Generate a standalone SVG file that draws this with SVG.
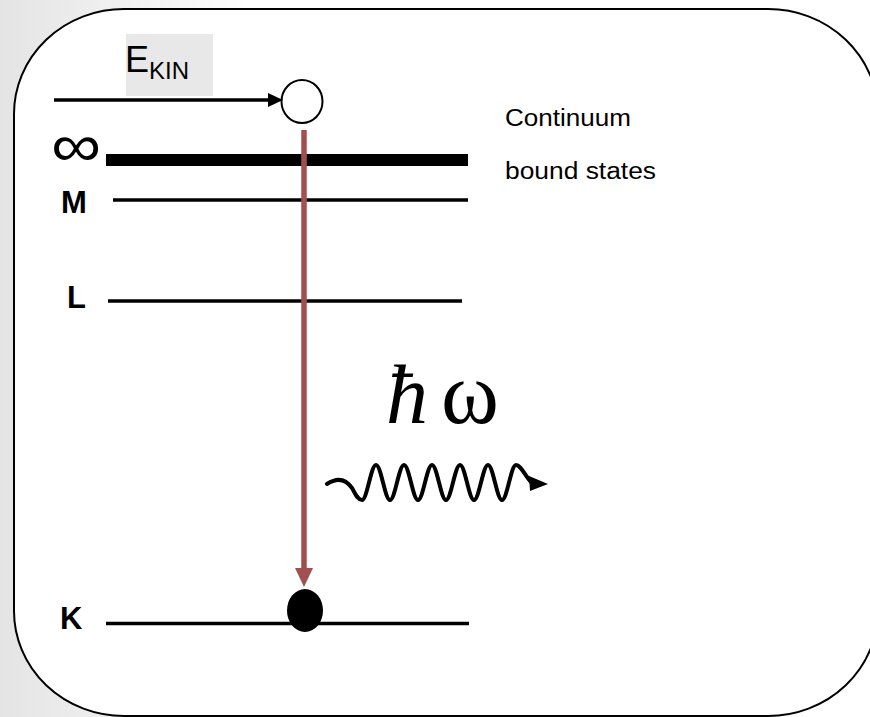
<svg xmlns="http://www.w3.org/2000/svg" width="870" height="717" viewBox="0 0 870 717">
<defs>
<linearGradient id="bg" x1="0" y1="0" x2="870" y2="0" gradientUnits="userSpaceOnUse">
<stop offset="0" stop-color="#e4e4e4"/>
<stop offset="0.3" stop-color="#ffffff"/>
<stop offset="1" stop-color="#ffffff"/>
</linearGradient>
<style>
.lvl{stroke:#000;stroke-width:3.5;fill:none}
.lab{font-family:"Liberation Sans",Arial,sans-serif;font-weight:bold;font-size:31px;fill:#000}
.txt{font-family:"Liberation Sans",Arial,sans-serif;font-size:23px;fill:#000}
.ser{font-family:"Liberation Serif","Times New Roman",serif;fill:#000}
</style>
</defs>
<rect x="0" y="0" width="870" height="717" fill="url(#bg)"/>
<g id="frame">
<rect x="14" y="9" width="864" height="707" rx="110" ry="105" fill="#fff" stroke="#000" stroke-width="2"/>
</g>
<g id="levels">
<line x1="106" y1="160" x2="468" y2="160" stroke="#000" stroke-width="12"/>
<line class="lvl" x1="113" y1="200" x2="468" y2="200"/>
<line class="lvl" x1="108" y1="301" x2="462" y2="301"/>
<line class="lvl" x1="106" y1="623.5" x2="469" y2="623.5"/>
</g>
<g id="labels">
<text x="51" y="166" font-family="Liberation Sans,Arial,sans-serif" font-size="60" textLength="50" lengthAdjust="spacingAndGlyphs">∞</text>
<text class="lab" x="61" y="213">M</text>
<text class="lab" x="67" y="308">L</text>
<text class="lab" x="60" y="629">K</text>
<text class="txt" x="505" y="126" textLength="126" lengthAdjust="spacingAndGlyphs">Continuum</text>
<text class="txt" x="505" y="179" textLength="151" lengthAdjust="spacingAndGlyphs">bound states</text>
</g>
<g id="ekin">
<rect x="126" y="34" width="87" height="62" fill="#e8e8e8"/>
<text x="125" y="72" font-family="Liberation Sans,Arial,sans-serif" font-size="36">E<tspan font-size="24" dy="7">KIN</tspan></text>
</g>
<g id="electron-free">
<ellipse cx="302" cy="101.5" rx="20.5" ry="21.5" fill="#fff" stroke="#000" stroke-width="2"/>
</g>
<g id="electron-bound">
<ellipse cx="305" cy="610.5" rx="18" ry="21.5" fill="#000"/>
</g>
<g id="photon">
<text class="ser" x="386" y="423" font-size="84" font-style="italic">ħ</text>
<text class="ser" x="441" y="423" font-size="88">ω</text>
<path d="M327,484 C336,478 345,478 352,488 C356,495 358,500 362,500 C367,500 371,465 376,465 C381,465 385,500 390,500 C395,500 399,465 404,465 C409,465 413,500 418,500 C423,500 427,465 432,465 C437,465 441,500 446,500 C451,500 455,465 460,465 C465,465 469,500 474,500 C479,500 483,465 488,465 C493,465 497,500 502,500 C507,500 511,465 516,465 C521,465 525,476 532,483" fill="none" stroke="#000" stroke-width="4" stroke-linecap="round"/>
<polygon points="529,476 548,484 530,491" fill="#000"/>
</g>
<g id="connectors">
<line x1="54" y1="100" x2="270" y2="100" stroke="#000" stroke-width="3.5"/>
<polygon points="268,93 283,100 268,107" fill="#000"/>
<line x1="304" y1="130" x2="304" y2="570" stroke="#a0514f" stroke-width="5.5"/>
<polygon points="295,568 313,568 304,587" fill="#a0514f"/>
</g>
</svg>
